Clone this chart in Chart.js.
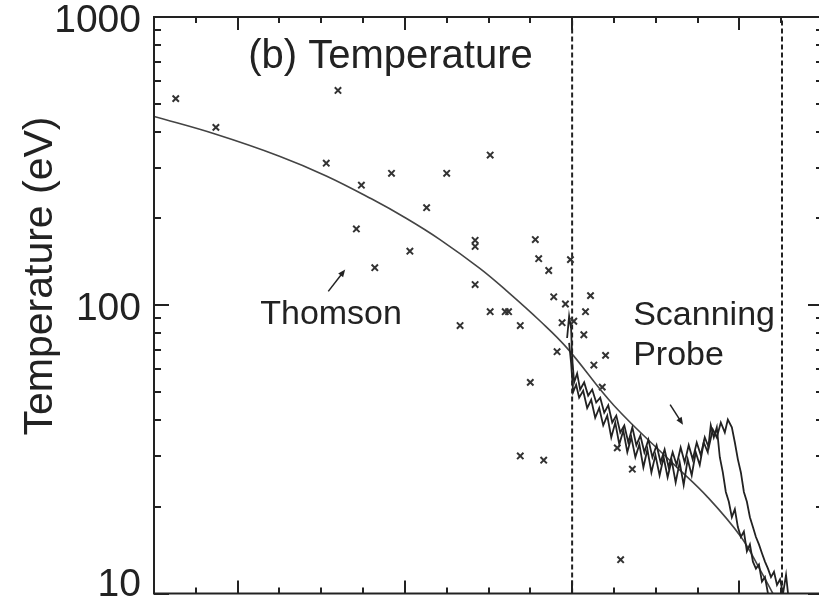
<!DOCTYPE html>
<html>
<head>
<meta charset="utf-8">
<script src="https://cdn.jsdelivr.net/npm/chart.js@4.4.1/dist/chart.umd.min.js"></script>
<style>
  html, body { margin: 0; padding: 0; background: #fff; overflow: hidden; }
</style>
</head>
<body>
<canvas id="chart" width="830" height="600"></canvas>
<script>
// Thomson scattering points (x in cm from separatrix, T in eV)
const thomsonX = [-2.37, -2.13, -1.40, -1.47, -1.26, -1.08, -0.75, -0.49, -0.87, -1.29,
  -0.97, -1.18, -0.58, -0.58, -0.58, -0.67, -0.22, -0.20, -0.14, -0.01,
  -0.11, -0.04, 0.11, 0.08, -0.49, -0.40, -0.38, -0.31, -0.06, 0.01,
  0.07, -0.09, 0.20, 0.13, -0.25, 0.18, -0.31, -0.17, 0.27, 0.36, 0.29];
const thomsonT = [521, 414, 556, 311, 261, 287, 287, 332, 218, 184,
  154, 135, 168, 160, 118, 85, 169, 145, 132, 144,
  107, 101, 108, 95, 95, 95, 95, 85, 87, 88,
  79, 69, 67, 62, 54, 52, 30, 29, 32, 27, 13.1];

// smooth fit through the profile
const fitX = [-2.5, -2.13, -1.75, -1.47, -1.2, -0.99, -0.79, -0.55, -0.39, -0.19, -0.03, 0.25, 0.61, 0.81, 1.01, 1.13, 1.2];
const fitT = [452, 392, 329, 281, 234, 200, 169, 134, 112, 88, 71, 44.9, 28, 21.6, 15.7, 11.9, 10];

// scanning probe traces
const probeAX = [-0.03, -0.018, -0.006, 0, 0.012, 0.03, 0.048, 0.072, 0.096, 0.12,
  0.144, 0.168, 0.192, 0.216, 0.24, 0.264, 0.288, 0.312, 0.336, 0.36,
  0.384, 0.408, 0.432, 0.456, 0.48, 0.505, 0.529, 0.553, 0.577, 0.601,
  0.625, 0.649, 0.673, 0.697, 0.721, 0.745, 0.769, 0.793, 0.817, 0.841,
  0.865, 0.889, 0.913, 0.931, 0.955, 0.973, 0.991, 1.009, 1.027, 1.045,
  1.063, 1.081, 1.099, 1.117, 1.135, 1.153, 1.171, 1.189, 1.207, 1.225,
  1.243, 1.261, 1.279, 1.291];
const probeAT = [77, 91.6, 83, 66, 54, 58, 51, 54, 48.6, 51,
  46, 47.8, 42.4, 45, 39.2, 41.4, 36.2, 38.3, 33.4, 37.7,
  32.7, 35.3, 30.9, 34.2, 29.7, 32.7, 28.5, 31.6, 27.4, 30.9,
  27.9, 32.1, 28.5, 32.7, 29.2, 33.4, 30.2, 34.8, 32.1, 37.1,
  34.8, 39.2, 36.2, 40.1, 37.7, 33.4, 29.2, 26.3, 22.5, 20.8,
  18.4, 17.0, 15.7, 14.8, 13.8, 12.9, 12.2, 11.4, 11.9, 10.7,
  11.2, 10, 11.6, 10];
const probeBX = [-0.018, -0.006, 0.006, 0.024, 0.042, 0.066, 0.09, 0.114, 0.138, 0.162,
  0.186, 0.21, 0.234, 0.258, 0.282, 0.306, 0.33, 0.354, 0.378, 0.402,
  0.426, 0.45, 0.474, 0.498, 0.523, 0.547, 0.571, 0.595, 0.619, 0.643,
  0.667, 0.691, 0.715, 0.739, 0.763, 0.787, 0.811, 0.829, 0.847, 0.865,
  0.883, 0.901, 0.919, 0.937, 0.955, 0.973, 0.991, 1.009, 1.027, 1.045,
  1.063, 1.081, 1.099, 1.117, 1.135, 1.153, 1.171];
const probeBT = [74, 63, 50, 53, 47.8, 50.5, 44, 47, 40.7, 44,
  38.3, 41.4, 34.8, 39.2, 32.9, 36.8, 30.9, 34.8, 29.7, 32.9,
  27.4, 31.6, 26.3, 30.2, 25.7, 29.7, 25.3, 29.0, 24.3, 28.5,
  23.8, 29.2, 25.7, 30.9, 27.9, 33.4, 30.9, 38.3, 34.8, 37.7,
  29.7, 26.3, 22.5, 20.8, 18.4, 19.6, 17.0, 15.7, 16.4, 14.0,
  14.8, 12.9, 12.2, 12.6, 11.0, 11.4, 10];

// vertical dashed markers
const dashedX = [0, 1.255];

// axes
const xMin = -2.5, xMax = 1.5, xMinorStep = 0.25;
const yMin = 10, yMax = 1000;
const yTickValues = [10, 100, 1000];
const yTickLabels = ['10', '100', '1000'];

const FONT = '"Liberation Sans", Arial, sans-serif';
const INK = '#222';

const pts = (xs, ys) => xs.map((v, i) => ({ x: v, y: ys[i] }));

// decorations: frame, inward ticks, labels, annotations
const decor = {
  id: 'decor',
  afterDraw(chart) {
    const { ctx, chartArea: a, scales: { x, y } } = chart;
    ctx.save();
    ctx.strokeStyle = INK;
    ctx.fillStyle = INK;

    // inward tick marks
    ctx.lineWidth = 2;
    ctx.beginPath();
    for (let v = xMin; v <= xMax + 1e-9; v += xMinorStep) {
      const px = Math.round(x.getPixelForValue(v));
      const len = Math.abs(v - Math.round(v)) < 1e-6 ? 13 : 6;
      ctx.moveTo(px, a.bottom); ctx.lineTo(px, a.bottom - len);
      ctx.moveTo(px, a.top); ctx.lineTo(px, a.top + len);
    }
    for (let dec = 10; dec < yMax; dec *= 10) {
      for (let k = 1; k <= 10; k++) {
        const py = Math.round(y.getPixelForValue(k * dec));
        const len = (k === 1 || k === 10) ? 15 : 7;
        ctx.moveTo(a.left, py); ctx.lineTo(a.left + len, py);
        ctx.moveTo(a.right, py); ctx.lineTo(a.right - len, py);
      }
    }
    ctx.stroke();

    // frame
    ctx.lineWidth = 2;
    ctx.strokeRect(a.left, a.top, a.right - a.left, a.bottom - a.top);

    // y tick labels
    ctx.font = '39px ' + FONT;
    ctx.textAlign = 'right';
    ctx.textBaseline = 'middle';
    yTickValues.forEach((v, i) => {
      const py = Math.min(y.getPixelForValue(v) + 4, chart.height - 15);
      ctx.fillText(yTickLabels[i], a.left - 13, py);
    });

    // y axis title
    ctx.save();
    ctx.translate(41, 276);
    ctx.rotate(-Math.PI / 2);
    ctx.textAlign = 'center';
    ctx.font = '41px ' + FONT;
    ctx.fillText('Temperature (eV)', 0, 0);
    ctx.restore();

    // texts inside the plot
    ctx.textAlign = 'left';
    ctx.textBaseline = 'alphabetic';
    ctx.font = '40px ' + FONT;
    ctx.fillText('(b) Temperature', x.getPixelForValue(-1.937), y.getPixelForValue(667));
    ctx.font = '34px ' + FONT;
    ctx.fillText('Thomson', x.getPixelForValue(-1.865), y.getPixelForValue(85.9));
    ctx.fillText('Scanning', x.getPixelForValue(0.365), y.getPixelForValue(85.3));
    ctx.fillText('Probe', x.getPixelForValue(0.365), y.getPixelForValue(62.1));

    // arrows
    const arrow = (x1, t1, x2, t2) => {
      const ax = x.getPixelForValue(x1), ay = y.getPixelForValue(t1);
      const bx = x.getPixelForValue(x2), by = y.getPixelForValue(t2);
      const ang = Math.atan2(by - ay, bx - ax);
      ctx.lineWidth = 1.5;
      ctx.beginPath();
      ctx.moveTo(ax, ay); ctx.lineTo(bx - 4 * Math.cos(ang), by - 4 * Math.sin(ang));
      ctx.stroke();
      ctx.beginPath();
      ctx.moveTo(bx, by);
      ctx.lineTo(bx - 8 * Math.cos(ang - 0.4), by - 8 * Math.sin(ang - 0.4));
      ctx.lineTo(bx - 8 * Math.cos(ang + 0.4), by - 8 * Math.sin(ang + 0.4));
      ctx.closePath();
      ctx.fill();
    };
    arrow(-1.458, 111.7, -1.357, 133);
    arrow(0.586, 45.2, 0.663, 38.5);

    ctx.restore();
  }
};

const lineStyle = { showLine: true, pointRadius: 0, fill: false, tension: 0 };

const datasets = [
  { ...lineStyle, data: pts(probeAX, probeAT), borderColor: INK, borderWidth: 1.8 },
  { ...lineStyle, data: pts(probeBX, probeBT), borderColor: INK, borderWidth: 1.8 },
  { ...lineStyle, data: pts(fitX, fitT), borderColor: '#444', borderWidth: 1.6, tension: 0.4 },
  { data: pts(thomsonX, thomsonT), showLine: false, pointStyle: 'crossRot',
    pointRadius: 4.5, borderColor: '#333', borderWidth: 2 }
];
dashedX.forEach(v => {
  datasets.push({ ...lineStyle, data: [{ x: v, y: yMin }, { x: v, y: yMax }],
    borderColor: INK, borderWidth: 2, borderDash: [5, 3] });
});

new Chart(document.getElementById('chart'), {
  type: 'scatter',
  data: { datasets },
  options: {
    responsive: false,
    animation: false,
    events: [],
    layout: { padding: { top: 17, right: 7, bottom: 3, left: 0 } },
    plugins: { legend: { display: false }, tooltip: { enabled: false } },
    scales: {
      x: {
        type: 'linear', min: xMin, max: xMax,
        ticks: { display: false },
        grid: { display: false, drawTicks: false },
        border: { display: false },
        afterFit: s => { s.height = 0; }
      },
      y: {
        type: 'logarithmic', min: yMin, max: yMax,
        ticks: { display: false },
        grid: { display: false, drawTicks: false },
        border: { display: false },
        afterFit: s => { s.width = 154; }
      }
    }
  },
  plugins: [decor]
});
</script>
</body>
</html>
